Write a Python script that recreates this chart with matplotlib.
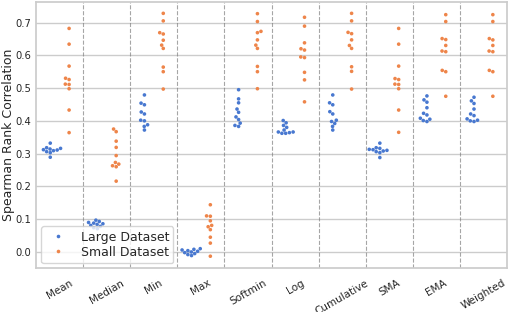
import numpy as np
import pandas as pd
import matplotlib
matplotlib.use('Agg')
import matplotlib.pyplot as plt
import seaborn as sns

# Methods on the x axis
methods = ['Mean', 'Median', 'Min', 'Max', 'Softmin', 'Log',
           'Cumulative', 'SMA', 'EMA', 'Weighted']
datasets = ['Large Dataset', 'Small Dataset']

# Spearman correlations per method
large = {
    'Mean': [0.332, 0.318, 0.316, 0.314, 0.312, 0.311, 0.309, 0.306, 0.303, 0.289],
    'Median': [0.097, 0.093, 0.090, 0.088, 0.086, 0.084, 0.081, 0.078, 0.074, 0.071],
    'Min': [0.479, 0.454, 0.449, 0.427, 0.421, 0.402, 0.400, 0.388, 0.383, 0.372],
    'Max': [0.010, 0.008, 0.006, 0.004, 0.002, 0.000, -0.002, -0.005, -0.008, -0.011],
    'Softmin': [0.495, 0.467, 0.455, 0.436, 0.426, 0.412, 0.404, 0.393, 0.386, 0.383],
    'Log': [0.401, 0.394, 0.386, 0.380, 0.372, 0.366, 0.364, 0.362, 0.362, 0.366],
    'Cumulative': [0.479, 0.455, 0.449, 0.428, 0.421, 0.402, 0.398, 0.392, 0.383, 0.372],
    'SMA': [0.332, 0.318, 0.316, 0.313, 0.312, 0.310, 0.308, 0.306, 0.303, 0.288],
    'EMA': [0.476, 0.464, 0.457, 0.440, 0.423, 0.418, 0.408, 0.405, 0.401, 0.398],
    'Weighted': [0.472, 0.461, 0.453, 0.436, 0.421, 0.416, 0.406, 0.402, 0.400, 0.398],
}
small = {
    'Mean': [0.682, 0.634, 0.567, 0.530, 0.526, 0.512, 0.511, 0.498, 0.433, 0.364],
    'Median': [0.375, 0.367, 0.338, 0.319, 0.294, 0.273, 0.268, 0.263, 0.260, 0.216],
    'Min': [0.728, 0.705, 0.669, 0.665, 0.646, 0.631, 0.621, 0.564, 0.550, 0.497],
    'Max': [0.144, 0.110, 0.109, 0.095, 0.081, 0.077, 0.068, 0.045, 0.027, -0.013],
    'Softmin': [0.727, 0.703, 0.673, 0.669, 0.647, 0.631, 0.621, 0.566, 0.550, 0.498],
    'Log': [0.716, 0.689, 0.638, 0.620, 0.616, 0.595, 0.593, 0.548, 0.525, 0.458],
    'Cumulative': [0.728, 0.705, 0.670, 0.666, 0.647, 0.630, 0.621, 0.565, 0.551, 0.497],
    'SMA': [0.682, 0.634, 0.567, 0.529, 0.526, 0.512, 0.511, 0.498, 0.433, 0.365],
    'EMA': [0.724, 0.703, 0.651, 0.648, 0.630, 0.613, 0.611, 0.554, 0.550, 0.475],
    'Weighted': [0.724, 0.703, 0.651, 0.647, 0.630, 0.613, 0.611, 0.554, 0.550, 0.475],
}

rows = []
for name, values in zip(datasets, [large, small]):
    for m in methods:
        for v in values[m]:
            rows.append((m, name, v))
df = pd.DataFrame(rows, columns=['Method', 'Dataset', 'Spearman'])

sns.set_theme(style='whitegrid', palette='muted')
plt.rcParams['font.family'] = ['DejaVu Sans']

fig = plt.figure(figsize=(5.09, 3.12), dpi=100)
ax = fig.add_axes([0.071, 0.141, 0.925, 0.853])
sns.swarmplot(data=df, x='Method', y='Spearman', hue='Dataset', order=methods,
              hue_order=datasets, dodge=True, size=2.6, ax=ax)

for i in range(len(methods) - 1):
    ax.axvline(i + 0.5, color='gray', ls='--', lw=0.8, alpha=0.7)

ax.set_xlim(-0.5, len(methods) - 0.5)
ax.set_ylim(-0.049, 0.763)
ax.set_yticks(np.arange(0, 0.71, 0.1))
ax.tick_params(axis='y', labelsize=7.2, length=0, pad=3.5)
ax.tick_params(axis='x', labelsize=7.5, length=0, pad=7)
plt.setp(ax.get_xticklabels(), rotation=30, ha='center')
ax.set_xlabel('')
ax.set_ylabel('Spearman Rank Correlation', fontsize=9)
ax.yaxis.set_label_coords(-0.0457, 0.5)
ax.legend(loc='lower left', fontsize=9, markerscale=1.0, labelspacing=0.15,
          borderpad=0.35, borderaxespad=0.4, handletextpad=0.8)

fig.savefig('out.png', dpi=100)
